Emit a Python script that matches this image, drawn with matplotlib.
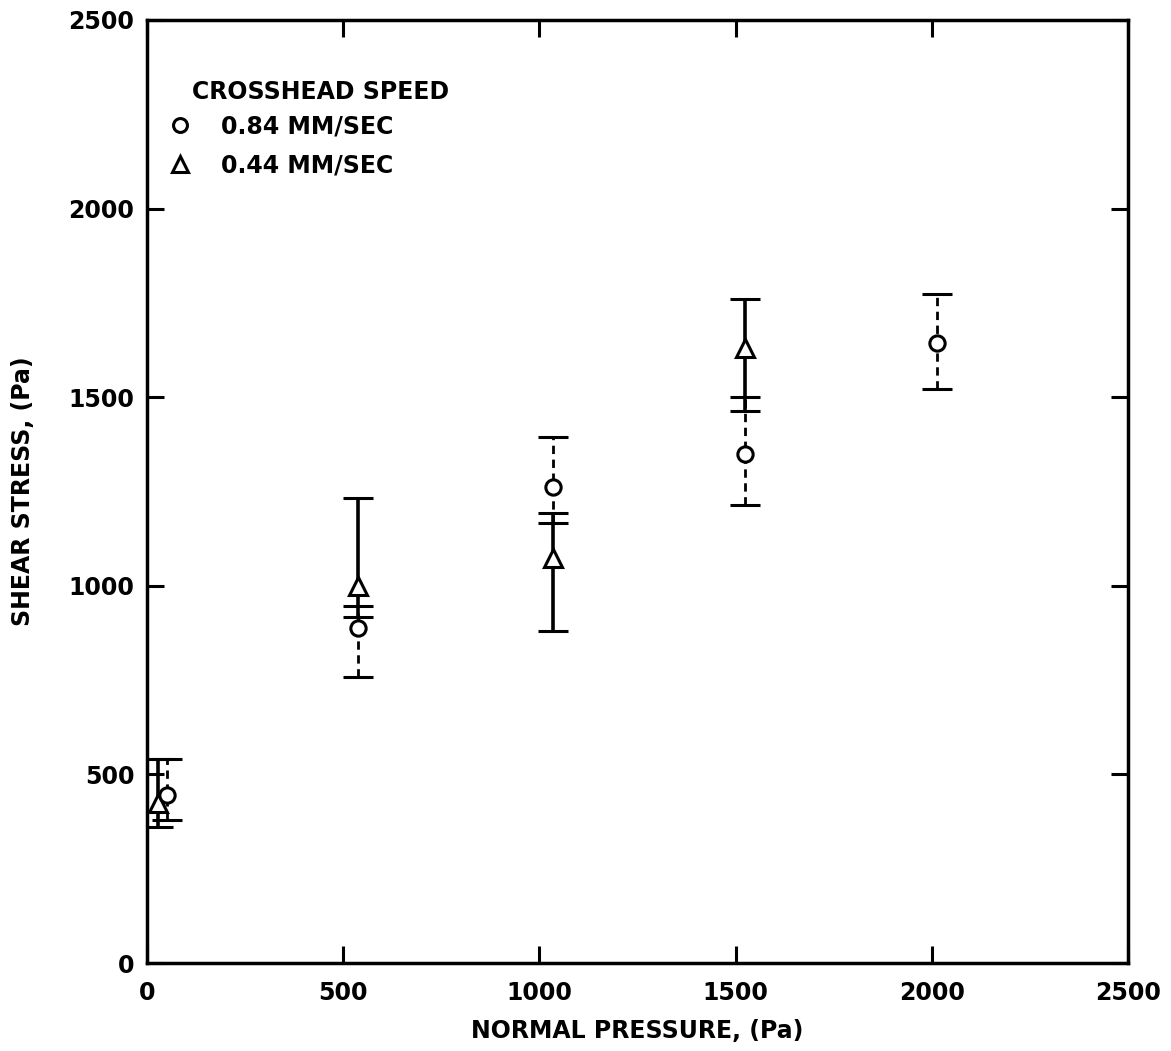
import numpy as np
import matplotlib
matplotlib.use("Agg")
import matplotlib.pyplot as plt
from matplotlib.lines import Line2D

# datos leidos de la figura
# velocidad 0.84 mm/s (circulos, barras discontinuas)
p_fast = [51, 538, 1035, 1524, 2013]
s_fast = [445, 888, 1262, 1350, 1643]
lo_fast = [380, 758, 1166, 1215, 1523]
hi_fast = [540, 946, 1395, 1500, 1773]

# velocidad 0.44 mm/s (triangulos, barras continuas)
p_slow = [28, 538, 1035, 1524]
s_slow = [425, 1000, 1075, 1630]
lo_slow = [360, 917, 880, 1463]
hi_slow = [540, 1232, 1192, 1760]

ticks = [0, 500, 1000, 1500, 2000, 2500]

plt.rcParams['font.family'] = 'DejaVu Sans'
plt.rcParams['font.weight'] = 'bold'
fs = 17

fig = plt.figure(figsize=(11.71, 10.51), dpi=100)
ax = fig.add_axes([0.1255, 0.0837, 0.8378, 0.8973])

s_fast = np.array(s_fast)
s_slow = np.array(s_slow)
err_fast = [s_fast - np.array(lo_fast), np.array(hi_fast) - s_fast]
err_slow = [s_slow - np.array(lo_slow), np.array(hi_slow) - s_slow]

e1 = ax.errorbar(p_slow, s_slow, yerr=err_slow, fmt='^', ms=13, mfc='white',
                 mec='black', mew=2.2, ecolor='black', elinewidth=2.6,
                 capsize=11, capthick=3, zorder=3)
e2 = ax.errorbar(p_fast, s_fast, yerr=err_fast, fmt='o', ms=11, mfc='white',
                 mec='black', mew=2.2, ecolor='black', elinewidth=2,
                 capsize=11, capthick=2.2, zorder=4)
e2[2][0].set_linestyle((0, (3, 2)))

ax.set_xlim(0, 2500)
ax.set_ylim(0, 2500)
ax.set_xticks(ticks)
ax.set_yticks(ticks)
ax.tick_params(direction='in', length=12, width=2.2, top=True, right=True,
               labelsize=fs)
ax.tick_params(axis='x', pad=13)
ax.tick_params(axis='y', pad=9)
for sp in ax.spines.values():
    sp.set_linewidth(2.5)

ax.set_xlabel('NORMAL PRESSURE, (Pa)', fontsize=fs, fontweight='bold', labelpad=10)
ax.set_ylabel('SHEAR STRESS, (Pa)', fontsize=fs, fontweight='bold', labelpad=24)

# leyenda
ax.text(0.046, 0.924, 'CROSSHEAD SPEED', transform=ax.transAxes, fontsize=fs,
        fontweight='bold', va='center', ha='left')
handles = [Line2D([], [], ls='none', marker='o', ms=10, mfc='white', mec='black', mew=2.2),
           Line2D([], [], ls='none', marker='^', ms=12, mfc='white', mec='black', mew=2.2)]
leg = ax.legend(handles, ['0.84 MM/SEC', '0.44 MM/SEC'],
                loc='upper left', bbox_to_anchor=(0.0204, 0.900), frameon=False,
                borderpad=0, borderaxespad=0, fontsize=fs,
                handlelength=1.1, handletextpad=1.2, labelspacing=0.65)

fig.savefig('out.png', dpi=100)
